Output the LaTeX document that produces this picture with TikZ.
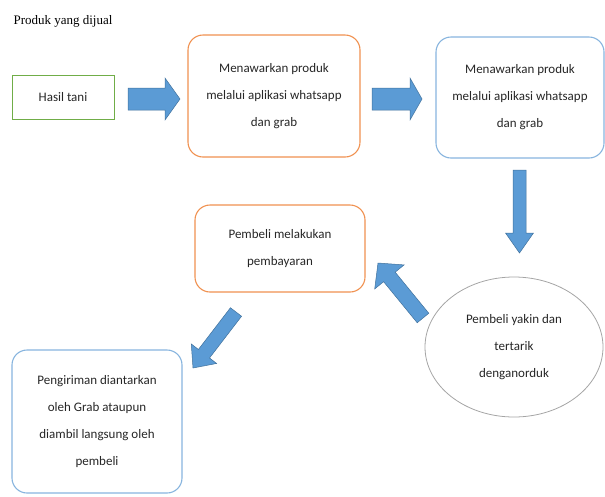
\documentclass[tikz,border=0pt]{standalone}
\usepackage{fontspec}
\setmainfont{Carlito}
\newfontfamily\judulfont{Liberation Serif}
\usetikzlibrary{calc, shapes.geometric, positioning}
\definecolor{hijau}{RGB}{112,173,71}
\definecolor{oranye}{RGB}{240,145,80}
\definecolor{biru}{RGB}{135,180,222}
\definecolor{panahisi}{RGB}{91,155,213}
\definecolor{panahtepi}{RGB}{65,113,156}
\definecolor{abu}{RGB}{165,165,165}

\begin{document}
\begin{tikzpicture}[x=1pt, y=-1pt,
        n/.style={align=center, text=black!85, font=\fontsize{13}{27}\selectfont, inner sep=0pt},
        kotak/.style={n, draw=hijau, line width=0.9pt, minimum width=102pt, minimum height=44pt},
        ro/.style={n, draw=oranye, line width=1.1pt, rounded corners=15pt},
        rb/.style={n, draw=biru, line width=1.1pt, rounded corners=15pt},
        el/.style={n, draw=abu, line width=0.8pt, ellipse},
        e/.style n args={3}{fill=panahisi, draw=panahtepi, line width=0.5pt, to path={
            ($(\tikztotarget)!#3!(\tikztostart)$) coordinate (hb)
            ($(\tikztostart)!#1!90:(\tikztotarget)$) -- ($(hb)!#1!90:(\tikztotarget)$)
            -- ($(hb)!#2!90:(\tikztotarget)$) -- (\tikztotarget)
            -- ($(hb)!#2!-90:(\tikztotarget)$) -- ($(hb)!#1!-90:(\tikztotarget)$)
            -- ($(\tikztostart)!#1!-90:(\tikztotarget)$) -- cycle}}]
        \useasboundingbox (0,0) rectangle (605,496);

        \node[anchor=west, font=\judulfont\fontsize{13}{15}\selectfont] (judul) at (10,21) {Produk yang dijual};

        \draw node[kotak] (hasil) at (63,97) {Hasil tani}
              node[ro, minimum width=172pt, minimum height=122pt] (tawar1) at (274,96)
                {Menawarkan produk\\melalui aplikasi whatsapp\\dan grab}
              node[rb, minimum width=168pt, minimum height=121pt] (tawar2) at (520,97.5)
                {Menawarkan produk\\melalui aplikasi whatsapp\\dan grab};

        \draw node[ro, minimum width=170pt, minimum height=87pt] (bayar) at (280,248.5)
                {Pembeli melakukan\\pembayaran}
              node[el, minimum width=178pt, minimum height=140pt] (yakin) at (514,347)
                {Pembeli yakin dan\\tertarik\\denganorduk}
              node[rb, minimum width=170pt, minimum height=143pt] (kirim) at (97,421.5)
                {Pengiriman diantarkan\\oleh Grab ataupun\\diambil langsung oleh\\pembeli};

        \coordinate (p1a) at (128,99);   \coordinate (p1b) at (180,99);
        \coordinate (p2a) at (372,99);   \coordinate (p2b) at (422,99);
        \coordinate (p3a) at (519.5,170); \coordinate (p3b) at (519.5,253);
        \coordinate (p4a) at (423,318);  \coordinate (p4b) at (378,263);
        \coordinate (p5a) at (236,312);  \coordinate (p5b) at (193,368);

        \foreach \a/\b/\s/\h/\l in {p1a/p1b/11pt/21pt/15pt, p2a/p2b/11pt/21pt/12pt,
            p3a/p3b/6.5pt/14pt/20pt, p4a/p4b/7.5pt/19pt/18pt, p5a/p5b/7pt/16pt/18pt}
        \draw[e={\s}{\h}{\l}] (\a) to (\b);
\end{tikzpicture}
\end{document}
